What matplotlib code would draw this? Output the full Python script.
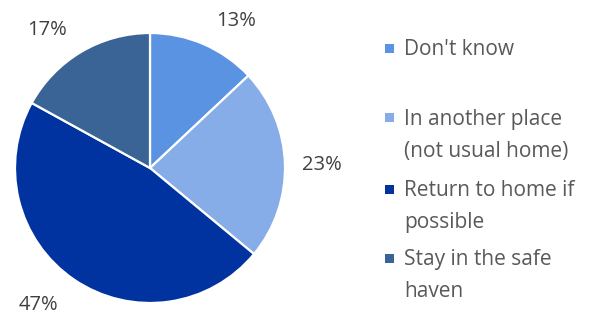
import matplotlib.pyplot as plt
from matplotlib.patches import Rectangle

categories = ["Don't know", "In another place\n(not usual home)", "Return to home if\npossible", "Stay in the safe\nhaven"]
shares = [13, 23, 47, 17]
colors = ["#5B93E3", "#86ADE8", "#0033A0", "#3A6496"]

W, H = 597, 315
plt.rcParams["font.family"] = ["Open Sans", "DejaVu Sans"]
fig = plt.figure(figsize=(W / 100, H / 100), dpi=100)

# pie centred at (150, 168) px, radius 135 px
cx, cy, r = 150, 168, 135
ax = fig.add_axes([(cx - r) / W, (H - cy - r) / H, 2 * r / W, 2 * r / H])
wedges, _, pct_texts = ax.pie(shares, colors=colors, startangle=90, counterclock=False, radius=1,
                              autopct=lambda p: f"{p:.0f}%", pctdistance=1.27,
                              wedgeprops=dict(edgecolor="white", linewidth=1.6),
                              textprops=dict(color="#404040", fontsize=14.5))
ax.set_xlim(-1, 1)
ax.set_ylim(-1, 1)
ax.axis("off")

# data labels sit where the original placed them (pixel centres)
label_px = [(236, 21), (322, 165), (38, 305), (47, 30)]
for t, (px, py) in zip(pct_texts, label_px):
    t.set_position(((px - cx) / r, (cy - py) / r))
    t.set_ha("center")
    t.set_va("center")

# legend drawn by hand to keep the uneven spacing of the original
first_line_centres = [48, 118, 189, 258]
for label, color, yc in zip(categories, colors, first_line_centres):
    fig.patches.append(Rectangle((385 / W, 1 - (yc + 4.5) / H), 9 / W, 9 / H,
                                 transform=fig.transFigure, facecolor=color, edgecolor="none"))
    fig.text(404 / W, 1 - (yc - 9) / H, label, ha="left", va="top",
             fontsize=15, color="#595959", linespacing=1.68)

fig.savefig("out.png", dpi=100)
